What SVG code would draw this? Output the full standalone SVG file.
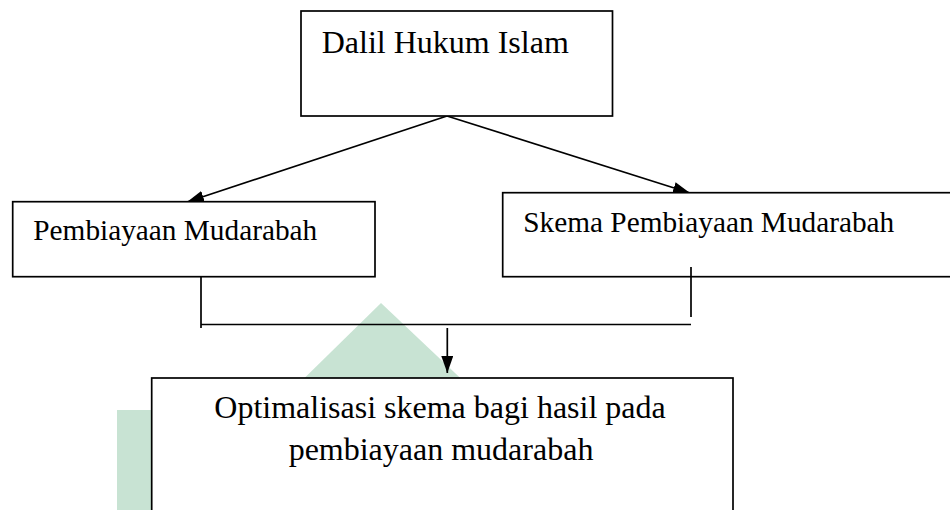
<svg xmlns="http://www.w3.org/2000/svg" width="950" height="510" viewBox="0 0 950 510">
<style>
.box{fill:#fff;stroke:#000;stroke-width:1.7}
.ln{fill:none;stroke:#000;stroke-width:1.7}
.t{font-family:"Liberation Serif","Times New Roman",serif;fill:#000}
.wm{fill:#c8e3d3}
</style>
<defs>
<marker id="ah" viewBox="0 0 17 12" refX="17" refY="6" markerWidth="17" markerHeight="12" orient="auto" markerUnits="userSpaceOnUse">
<path d="M0,0 L17,6 L0,12 z" fill="#000"/>
</marker>
</defs>
<rect width="950" height="510" fill="#fff"/>
<g id="watermark">
<polygon class="wm" points="381,303 600,510 170,510"/>
<rect class="wm" x="117" y="410" width="40" height="100"/>
</g>
<g id="connectors">
<line class="ln" x1="447" y1="116" x2="187" y2="202" marker-end="url(#ah)"/>
<line class="ln" x1="447" y1="116" x2="690" y2="193" marker-end="url(#ah)"/>
<line class="ln" x1="201" y1="277" x2="201" y2="328"/>
<line class="ln" x1="201" y1="324.5" x2="691" y2="324.5"/>
<line class="ln" x1="447.3" y1="328" x2="447.3" y2="373" marker-end="url(#ah)"/>
</g>
<g id="node-dalil">
<rect class="box" x="301" y="11" width="311.5" height="105"/>
<text class="t" x="321.7" y="53" font-size="32">Dalil Hukum Islam</text>
</g>
<g id="node-pembiayaan">
<rect class="box" x="12.7" y="201.7" width="362.3" height="75"/>
<text class="t" x="33.3" y="240" font-size="29.3">Pembiayaan Mudarabah</text>
</g>
<g id="node-skema">
<rect class="box" x="502.7" y="192.7" width="470" height="84"/>
<text class="t" x="523.3" y="231.7" font-size="29.3">Skema Pembiayaan Mudarabah</text>
<line class="ln" x1="691" y1="267" x2="691" y2="317"/>
</g>
<g id="node-optimalisasi">
<rect class="box" x="151.7" y="378" width="581.3" height="150"/>
<text class="t" x="440" y="418.3" font-size="32" text-anchor="middle">Optimalisasi skema bagi hasil pada</text>
<text class="t" x="441" y="460" font-size="32" text-anchor="middle">pembiayaan mudarabah</text>
</g>
</svg>
